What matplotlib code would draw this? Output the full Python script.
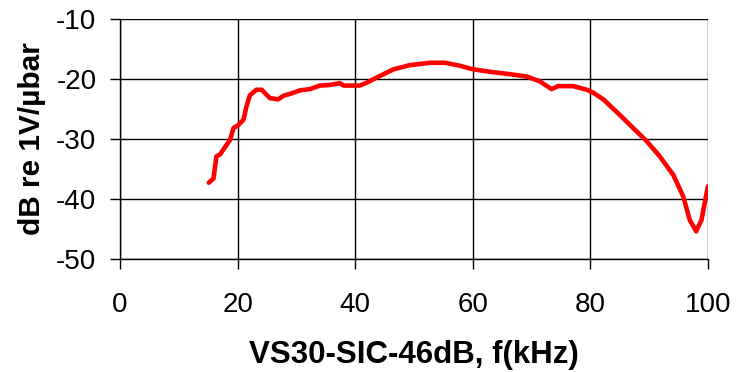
import numpy as np
import matplotlib
matplotlib.use('Agg')
import matplotlib.pyplot as plt

# frequency (kHz) and response (dB re 1V/ubar)
freq = [15.1, 15.9, 16.4, 17.0, 17.9, 18.7, 19.3, 20.1, 21.0, 21.5, 22.1, 23.2, 24.1,
        25.5, 26.9, 27.8, 29.2, 30.6, 32.3, 34.0, 35.7, 37.4, 38.0, 40.8, 42.0, 44.2,
        46.5, 49.3, 52.7, 55.3, 57.8, 60.1, 62.9, 66.3, 69.2, 71.4, 73.4, 74.5, 77.1,
        79.4, 80.5, 82.2, 85.0, 87.3, 89.6, 91.8, 94.1, 95.8, 96.9, 98.0, 98.9, 99.5, 100.0]
resp = [-37.3, -36.6, -32.9, -32.6, -31.3, -30.2, -28.2, -27.7, -26.8, -24.6, -22.7, -21.8, -21.8,
        -23.2, -23.4, -22.8, -22.4, -21.9, -21.7, -21.1, -21.0, -20.7, -21.1, -21.1, -20.6, -19.5,
        -18.4, -17.7, -17.3, -17.3, -17.8, -18.4, -18.8, -19.2, -19.6, -20.4, -21.7, -21.2, -21.2,
        -21.8, -22.3, -23.4, -26.0, -28.2, -30.4, -32.9, -36.0, -39.6, -43.5, -45.4, -43.5, -40.4, -37.9]

xticks = [0, 20, 40, 60, 80, 100]
yticks = [-50, -40, -30, -20, -10]

plt.rcParams['font.family'] = ['Liberation Sans', 'DejaVu Sans']
plt.rcParams['axes.unicode_minus'] = False

fig = plt.figure(figsize=(7.39, 3.72), dpi=100)
ax = fig.add_axes([0.1624, 0.304, 0.7956, 0.645])

ax.plot(freq, resp, color='#ff0000', lw=3.3, solid_capstyle='round',
        solid_joinstyle='round', zorder=3)

ax.set_xlim(0, 100)
ax.set_ylim(-50, -10)
ax.set_xticks(xticks)
ax.set_yticks(yticks)
ax.grid(True, color='black', lw=1)
for s in ['top', 'right']:
    ax.spines[s].set_visible(False)
for s in ['left', 'bottom']:
    ax.spines[s].set_color('black')
    ax.spines[s].set_linewidth(1)
ax.tick_params(axis='y', direction='out', length=7, width=1, pad=10, labelsize=20)
ax.tick_params(axis='x', direction='out', length=7, width=1, pad=17, labelsize=20)

ax.set_xlabel('VS30-SIC-46dB, f(kHz)', fontsize=22.5, fontweight='bold', labelpad=16)
ax.set_ylabel('dB re 1V/µbar', fontsize=21.5, fontweight='bold', labelpad=7)

fig.savefig('out.png', dpi=100)
